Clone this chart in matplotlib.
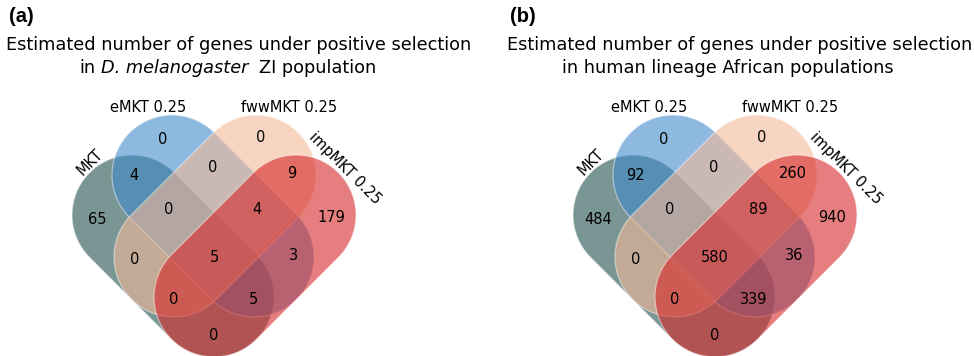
import numpy as np
import matplotlib
matplotlib.use("Agg")
import matplotlib.pyplot as plt
from matplotlib.patches import Polygon

# set names (drawing order) and region counts for each panel
set_names = ["MKT", "eMKT 0.25", "fwwMKT 0.25", "impMKT 0.25"]
set_colors = ["#21504d", "#418acb", "#f3b998", "#d62728"]

# region keys: which sets (MKT, eMKT, fwwMKT, impMKT) the region belongs to
region_keys = ["1000", "0100", "0010", "0001",
               "1100", "0110", "0011", "1001", "1010", "0101",
               "1110", "0111", "1011", "1101", "1111"]
counts_dmel = [65, 0, 0, 179,
               4, 0, 9, 0, 0, 3,
               0, 4, 0, 5, 5]
counts_human = [484, 0, 0, 940,
                92, 0, 260, 0, 0, 36,
                0, 89, 0, 339, 580]

title_line1 = "Estimated number of genes under positive selection"
# second title line pieces: (text, italic)
title_line2_a = [("in", False), ("D. melanogaster", True), ("ZI population", False)]
title_line2_b = [("in human lineage African populations", False)]
panel_tags = ["(a)", "(b)"]

# layout (pixels, relative to the symmetry axis of each diagram)
R = 60
caps = [((-82, 215), (0, 297)),    # MKT
        ((-42, 175), (40, 257)),   # eMKT
        ((42, 175), (-40, 257)),   # fwwMKT
        ((82, 215), (0, 297))]     # impMKT
label_pos = {"1000": (-117, 220), "0100": (-51, 139), "0010": (47, 138), "0001": (117, 218),
             "1100": (-80, 176), "0110": (-1, 167), "0011": (78, 173), "1001": (0, 335),
             "1010": (-79, 259), "0101": (79, 256), "1110": (-45, 209), "0111": (43, 210),
             "1011": (-40, 299), "1101": (39, 299), "1111": (0, 257)}


def stadium(p1, p2, r, n=40):
    p1, p2 = np.array(p1, float), np.array(p2, float)
    d = p2 - p1
    a = np.arctan2(d[1], d[0])
    t1 = np.linspace(a + np.pi / 2, a + 3 * np.pi / 2, n)
    t2 = np.linspace(a - np.pi / 2, a + np.pi / 2, n)
    pts = np.vstack([p1 + r * np.c_[np.cos(t1), np.sin(t1)],
                     p2 + r * np.c_[np.cos(t2), np.sin(t2)]])
    return pts


fig = plt.figure(figsize=(9.74, 3.56), dpi=100)
ax = fig.add_axes([0, 0, 1, 1])
ax.set_xlim(0, 974)
ax.set_ylim(356, 0)
ax.set_aspect("equal")
ax.axis("off")

panels = [(214, counts_dmel, title_line2_a, 79), (715, counts_human, title_line2_b, 562)]
for k, (x0, counts, line2, x_line2) in enumerate(panels):
    for (c1, c2), col in zip(caps, set_colors):
        pts = stadium((x0 + c1[0], c1[1]), (x0 + c2[0], c2[1]), R)
        rgb = matplotlib.colors.to_rgb(col)
        ax.add_patch(Polygon(pts, closed=True, facecolor=rgb + (0.6,),
                             edgecolor=(1, 1, 1, 0.45), lw=0.9))
    for key, val in zip(region_keys, counts):
        dx, y = label_pos[key]
        ax.text(x0 + dx, y, str(val), ha="center", va="center", fontsize=10.5)

    ax.text(x0 - 124, 162, set_names[0], rotation=45, ha="center", va="center", fontsize=10.5)
    ax.text(x0 - 66, 107, set_names[1], ha="center", va="center", fontsize=10.5)
    ax.text(x0 + 75, 107, set_names[2], ha="center", va="center", fontsize=10.5)
    ax.text(x0 + 131, 168, set_names[3], rotation=-45, ha="center", va="center", fontsize=10.5)

    # title: first line centred, second line built from pieces
    ax.text(x0 + 25, 45, title_line1, ha="center", va="center", fontsize=12.75)
    prev = None
    for i, (txt, ital) in enumerate(line2):
        style = "italic" if ital else "normal"
        if prev is None:
            prev = ax.text(x_line2, 68, txt, ha="left", va="center", fontsize=12.75, style=style)
        else:
            gap = 8 if i == 2 else 4
            prev = ax.annotate(txt, xy=(1, 0), xycoords=prev, xytext=(gap, 0),
                               textcoords="offset points", ha="left", va="bottom",
                               fontsize=12.75, style=style)

    ax.text(x0 - 205, 16, panel_tags[k], ha="left", va="center", fontsize=14.5,
            fontweight="bold", family="Liberation Sans")

fig.savefig("out.png", dpi=100)
